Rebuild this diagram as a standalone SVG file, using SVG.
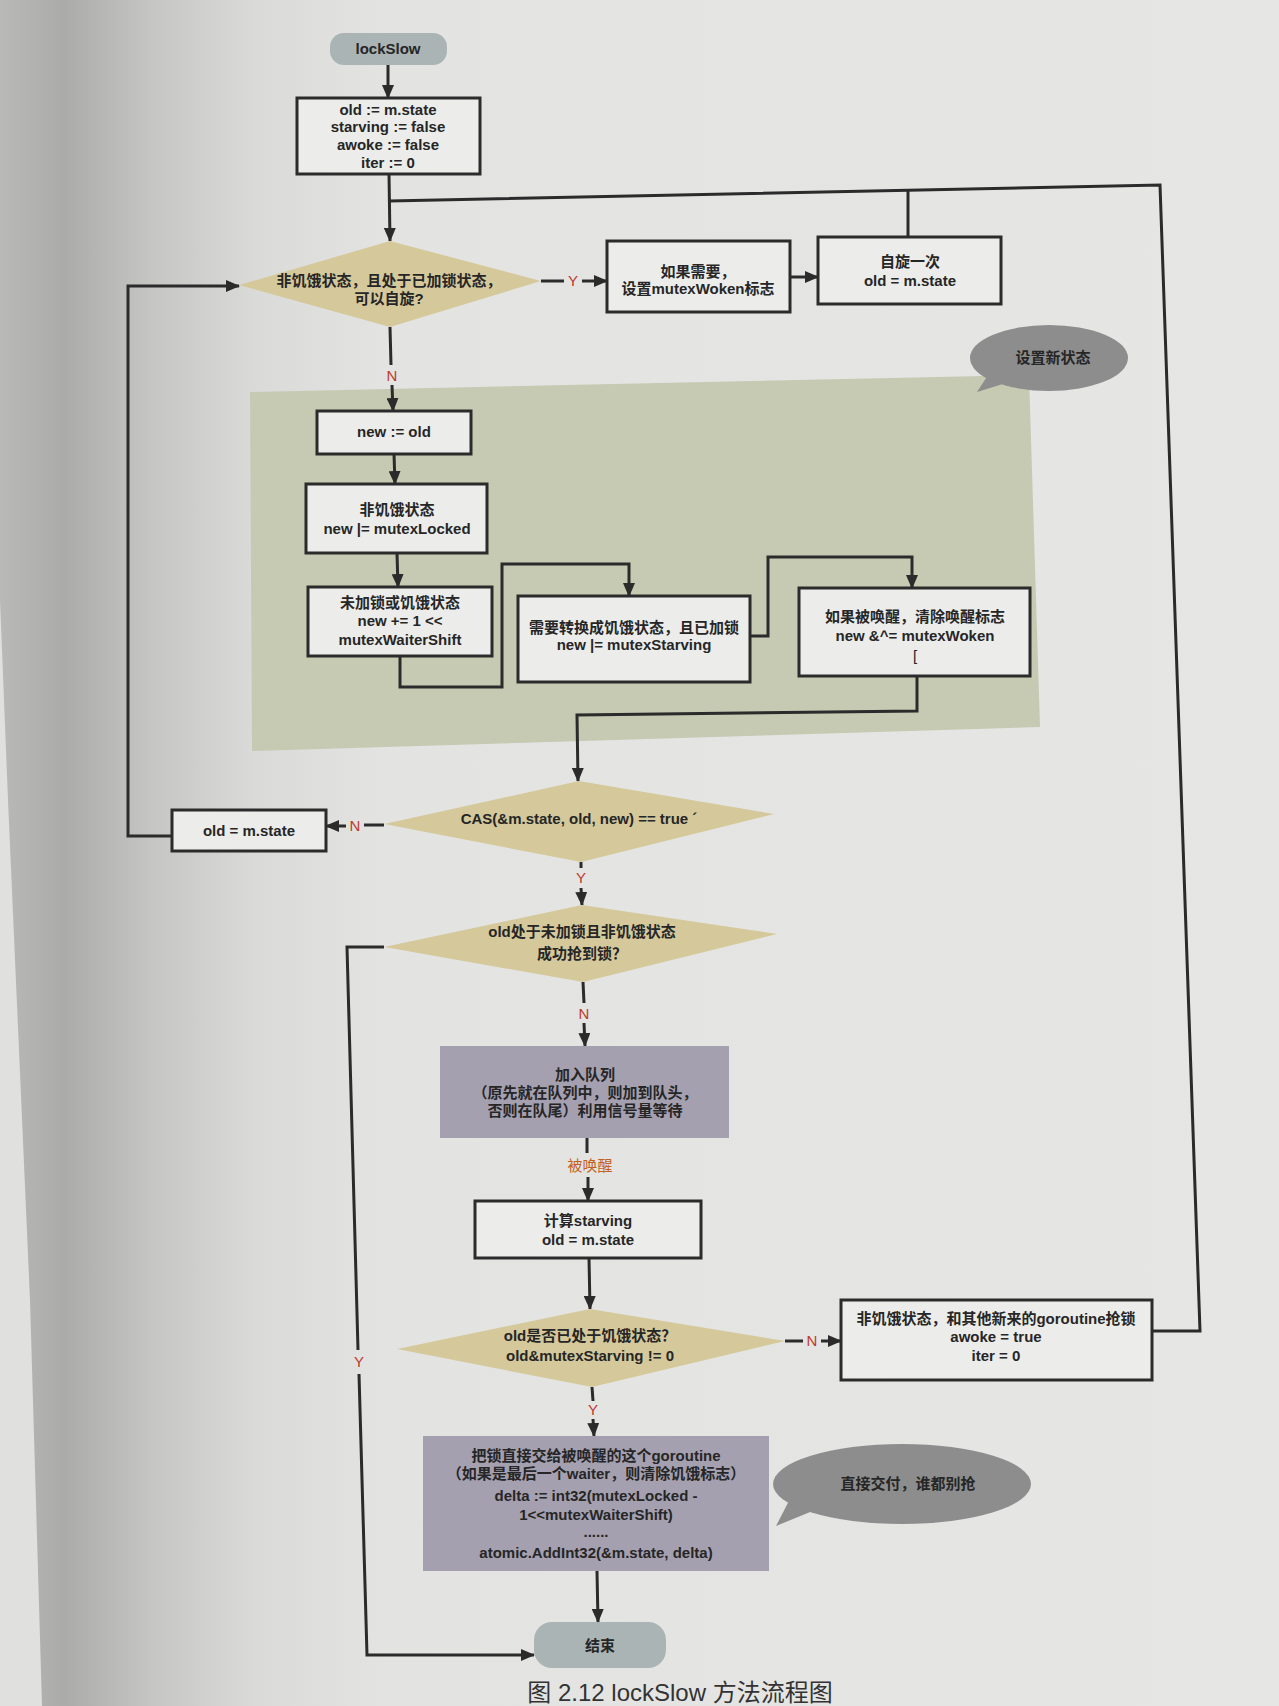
<svg xmlns="http://www.w3.org/2000/svg" width="1279" height="1706" viewBox="0 0 1279 1706">
  <defs>
    <linearGradient id="paper" x1="0" y1="0" x2="1" y2="0">
      <stop offset="0" stop-color="#b9b9b8"/>
      <stop offset="0.05" stop-color="#ababaa"/>
      <stop offset="0.12" stop-color="#c6c6c5"/>
      <stop offset="0.2" stop-color="#dadad9"/>
      <stop offset="0.3" stop-color="#e3e4e2"/>
      <stop offset="1" stop-color="#e6e7e5"/>
    </linearGradient>
    <marker id="ah" viewBox="0 0 14 12" markerWidth="14" markerHeight="12" refX="13" refY="6" orient="auto" markerUnits="userSpaceOnUse">
      <path d="M0,0 L14,6 L0,12 Z" fill="#2b2b2b"/>
    </marker>
  </defs>
  <style>
    .box{fill:#ecedeb;stroke:#2b2b2b;stroke-width:3}
    .dia{fill:#d5c99c}
    .term{fill:#aab4b4}
    .purple{fill:#a5a0b0}
    .note{fill:#8d8d8d}
    .t{font-family:"Liberation Sans","Noto Sans CJK SC",sans-serif;font-size:15px;font-weight:bold;fill:#262626;text-anchor:middle}
    .lbl{font-family:"Liberation Sans",sans-serif;font-size:15px;fill:#c0392b;text-anchor:middle}
    .wake{font-family:"Noto Sans CJK SC",sans-serif;font-size:15px;fill:#c2621c;text-anchor:middle}
    .ln{fill:none;stroke:#2b2b2b;stroke-width:3}
    .arr{marker-end:url(#ah)}
  </style>

  <!-- page -->
  <rect x="0" y="0" width="1279" height="1706" fill="url(#paper)"/>
  <polygon points="0,600 8,800 30,1300 42,1706 0,1706" fill="#e0e0de"/>

  <!-- shaded area: setting the new state -->
  <polygon id="zone-new-state" points="250,392 1029,375 1040,727 252,751" fill="#c6cab3"/>

  <!-- connectors -->
  <g id="connectors">
    <path class="ln arr" d="M388,65 L388,98"/>
    <path class="ln arr" d="M389,174 L390,241"/>
    <path class="ln" d="M1151,1331 L1200,1331 L1160,185 L389,201"/>
    <path class="ln" d="M908,237 L908,190"/>
    <path class="ln" d="M541,281 L564,281"/>
    <path class="ln arr" d="M582,281 L607,281"/>
    <text class="lbl" x="573" y="286">Y</text>
    <path class="ln arr" d="M790,277 L818,277"/>
    <path class="ln" d="M390,327 L391,365"/>
    <path class="ln arr" d="M392,385 L393,411"/>
    <text class="lbl" x="392" y="381">N</text>
    <path class="ln arr" d="M394,454 L395,484"/>
    <path class="ln arr" d="M397,553 L398,587"/>
    <path class="ln arr" d="M400,656 L400,687 L502,687 L502,564 L629,564 L629,596"/>
    <path class="ln arr" d="M750,636 L768,636 L768,557 L912,557 L912,588"/>
    <path class="ln arr" d="M917,676 L917,711 L577,715 L578,781"/>
    <path class="ln" d="M384,825 L364,825"/>
    <path class="ln arr" d="M346,826 L326,826"/>
    <text class="lbl" x="355" y="831">N</text>
    <path class="ln arr" d="M172,836 L128,836 L128,286 L239,286"/>
    <path class="ln" d="M581,862 L581,868"/>
    <path class="ln arr" d="M581,888 L582,905"/>
    <text class="lbl" x="581" y="883">Y</text>
    <path class="ln" d="M384,947 L347,947 L358,1350"/>
    <path class="ln arr" d="M359,1374 L367,1655 L534,1655"/>
    <text class="lbl" x="359" y="1367">Y</text>
    <path class="ln" d="M583,982 L584,1003"/>
    <path class="ln arr" d="M584,1023 L585,1046"/>
    <text class="lbl" x="584" y="1019">N</text>
    <path class="ln" d="M587,1138 L587,1153"/>
    <path class="ln arr" d="M588,1177 L588,1201"/>
    <text class="wake" x="590" y="1171">被唤醒</text>
    <path class="ln arr" d="M589,1258 L590,1309"/>
    <path class="ln" d="M785,1341 L803,1341"/>
    <path class="ln arr" d="M821,1341 L841,1341"/>
    <text class="lbl" x="812" y="1346">N</text>
    <path class="ln" d="M592,1387 L593,1401"/>
    <path class="ln arr" d="M593,1419 L594,1436"/>
    <text class="lbl" x="593" y="1415">Y</text>
    <path class="ln arr" d="M597,1571 L598,1622"/>
  </g>

  <!-- nodes -->
  <g id="n-start">
    <rect class="term" x="330" y="33" width="117" height="32" rx="14"/>
    <text class="t" x="388" y="54">lockSlow</text>
  </g>
  <g id="n-init">
    <rect class="box" x="297" y="98" width="183" height="76"/>
    <text class="t" x="388" y="115">old := m.state</text>
    <text class="t" x="388" y="132">starving := false</text>
    <text class="t" x="388" y="150">awoke := false</text>
    <text class="t" x="388" y="168">iter := 0</text>
  </g>
  <g id="n-spin-check">
    <polygon class="dia" points="239,285 390,241 541,281 390,327"/>
    <text class="t" x="389" y="286">非饥饿状态，且处于已加锁状态，</text>
    <text class="t" x="389" y="304">可以自旋?</text>
  </g>
  <g id="n-set-woken">
    <rect class="box" x="607" y="241" width="183" height="71"/>
    <text class="t" x="698" y="277">如果需要，</text>
    <text class="t" x="698" y="294">设置mutexWoken标志</text>
  </g>
  <g id="n-spin">
    <rect class="box" x="818" y="237" width="183" height="67"/>
    <text class="t" x="910" y="267">自旋一次</text>
    <text class="t" x="910" y="286">old = m.state</text>
  </g>
  <g id="n-new-old">
    <rect class="box" x="317" y="411" width="154" height="43"/>
    <text class="t" x="394" y="437">new := old</text>
  </g>
  <g id="n-locked">
    <rect class="box" x="306" y="484" width="181" height="69"/>
    <text class="t" x="397" y="515">非饥饿状态</text>
    <text class="t" x="397" y="534">new |= mutexLocked</text>
  </g>
  <g id="n-waiter">
    <rect class="box" x="308" y="587" width="184" height="69"/>
    <text class="t" x="400" y="608">未加锁或饥饿状态</text>
    <text class="t" x="400" y="626">new += 1 &lt;&lt;</text>
    <text class="t" x="400" y="645">mutexWaiterShift</text>
  </g>
  <g id="n-starving">
    <rect class="box" x="518" y="596" width="232" height="86"/>
    <text class="t" x="634" y="633">需要转换成饥饿状态，且已加锁</text>
    <text class="t" x="634" y="650">new |= mutexStarving</text>
  </g>
  <g id="n-woken">
    <rect class="box" x="799" y="588" width="231" height="88"/>
    <text class="t" x="915" y="622">如果被唤醒，清除唤醒标志</text>
    <text class="t" x="915" y="641">new &amp;^= mutexWoken</text>
    <text class="t" x="915" y="661" style="font-weight:normal">[</text>
  </g>
  <g id="n-cas">
    <polygon class="dia" points="384,824 579,781 774,814 581,862"/>
    <text class="t" x="579" y="824">CAS(&amp;m.state, old, new) == true ´</text>
  </g>
  <g id="n-old-reload">
    <rect class="box" x="172" y="810" width="154" height="41"/>
    <text class="t" x="249" y="836">old = m.state</text>
  </g>
  <g id="n-acquired">
    <polygon class="dia" points="384,947 582,905 777,934 583,982"/>
    <text class="t" x="582" y="937">old处于未加锁且非饥饿状态</text>
    <text class="t" x="582" y="959">成功抢到锁？</text>
  </g>
  <g id="n-enqueue">
    <rect class="purple" x="440" y="1046" width="289" height="92"/>
    <text class="t" x="585" y="1080">加入队列</text>
    <text class="t" x="585" y="1098">（原先就在队列中，则加到队头，</text>
    <text class="t" x="585" y="1116">否则在队尾）利用信号量等待</text>
  </g>
  <g id="n-compute">
    <rect class="box" x="475" y="1201" width="226" height="57"/>
    <text class="t" x="588" y="1226">计算starving</text>
    <text class="t" x="588" y="1245">old = m.state</text>
  </g>
  <g id="n-starving-check">
    <polygon class="dia" points="397,1349 590,1309 785,1341 592,1387"/>
    <text class="t" x="590" y="1341">old是否已处于饥饿状态？</text>
    <text class="t" x="590" y="1361">old&amp;mutexStarving != 0</text>
  </g>
  <g id="n-compete">
    <rect class="box" x="841" y="1300" width="311" height="80"/>
    <text class="t" x="996" y="1324">非饥饿状态，和其他新来的goroutine抢锁</text>
    <text class="t" x="996" y="1342">awoke = true</text>
    <text class="t" x="996" y="1361">iter = 0</text>
  </g>
  <g id="n-handoff">
    <rect class="purple" x="423" y="1436" width="346" height="135"/>
    <text class="t" x="596" y="1461">把锁直接交给被唤醒的这个goroutine</text>
    <text class="t" x="596" y="1479">（如果是最后一个waiter，则清除饥饿标志）</text>
    <text class="t" x="596" y="1501">delta := int32(mutexLocked -</text>
    <text class="t" x="596" y="1520">1&lt;&lt;mutexWaiterShift)</text>
    <text class="t" x="596" y="1537">......</text>
    <text class="t" x="596" y="1558">atomic.AddInt32(&amp;m.state, delta)</text>
  </g>
  <g id="n-end">
    <rect class="term" x="534" y="1622" width="132" height="46" rx="18"/>
    <text class="t" x="600" y="1651">结束</text>
  </g>

  <!-- callouts -->
  <g id="note-new-state">
    <polygon class="note" points="990,372 977,392 1006,383"/>
    <ellipse class="note" cx="1049" cy="358" rx="79" ry="33"/>
    <text class="t" x="1053" y="363">设置新状态</text>
  </g>
  <g id="note-handoff">
    <polygon class="note" points="792,1495 776,1526 815,1510"/>
    <ellipse class="note" cx="902" cy="1484" rx="129" ry="40"/>
    <text class="t" x="908" y="1489">直接交付，谁都别抢</text>
  </g>

  <!-- caption -->
  <text x="680" y="1701" font-family="Liberation Sans, Noto Sans CJK SC, sans-serif" font-size="24" fill="#333" text-anchor="middle">图 2.12  lockSlow 方法流程图</text>
</svg>
